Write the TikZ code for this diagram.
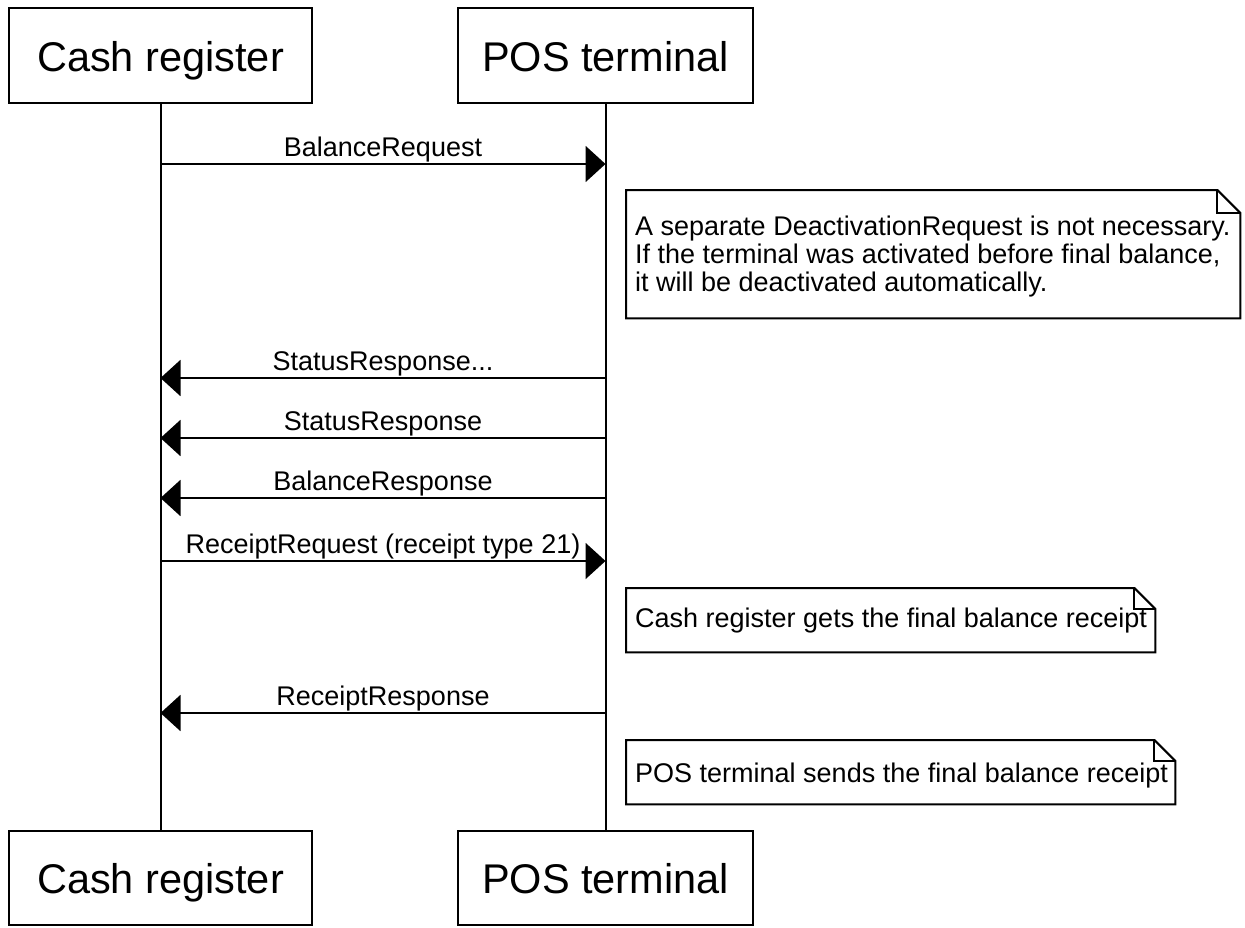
\documentclass[tikz,border=0pt]{standalone}
\usepackage{fontspec}
\setmainfont{Liberation Sans}
\usetikzlibrary{arrows.meta}

\tikzset{
  actor/.style={draw, line width=2pt, fill=white, inner sep=0pt,
    text height=38pt, text depth=7pt, font=\fontsize{41.5}{48}\selectfont},
  lifeline/.style={line width=2pt},
  msg/.style={line width=2pt, -{Triangle[length=20pt, width=36pt]}},
  msglabel/.style={font=\fontsize{27}{28}\selectfont, text depth=6pt, inner sep=1pt},
  notebox/.style={inner sep=0pt, anchor=north west},
  notetext/.style={align=left, inner sep=0pt, anchor=west,
    font=\fontsize{27}{28}\selectfont},
  noteline/.style={line width=2pt, line join=miter}
}

% note outline with folded corner
\newcommand{\foldnote}[2]{%
  \draw[noteline] (#1.north west) -- ([xshift=-#2]#1.north east)
    -- ([yshift=-#2]#1.north east) -- (#1.south east) -- (#1.south west) -- cycle;
  \draw[noteline] ([xshift=-#2]#1.north east) |- ([yshift=-#2]#1.north east);
}

\begin{document}
\begin{tikzpicture}[x=1pt, y=-1pt]
  \useasboundingbox (0,0) rectangle (1245,927);

  % participants
  \node[actor, minimum width=303pt, minimum height=95pt] (cr) at (160.5,55.5) {Cash register};
  \node[actor, minimum width=295pt, minimum height=95pt] (pos) at (605.5,55.5) {POS terminal};
  \node[actor, minimum width=303pt, minimum height=94pt] (crb) at (160.5,878) {Cash register};
  \node[actor, minimum width=295pt, minimum height=94pt] (posb) at (605.5,878) {POS terminal};

  % lifelines
  \draw[lifeline] (cr) -- (crb);
  \draw[lifeline] (pos) -- (posb);

  % message rows
  \coordinate (r1) at (0,164);
  \coordinate (r2) at (0,378);
  \coordinate (r3) at (0,438);
  \coordinate (r4) at (0,498);
  \coordinate (r5) at (0,561);
  \coordinate (r6) at (0,713);

  \draw[msg] (cr |- r1) -- (pos |- r1) node[msglabel, midway, above] {BalanceRequest};
  \draw[msg] (pos |- r2) -- (cr |- r2) node[msglabel, midway, above] {StatusResponse...};
  \draw[msg] (pos |- r3) -- (cr |- r3) node[msglabel, midway, above] {StatusResponse};
  \draw[msg] (pos |- r4) -- (cr |- r4) node[msglabel, midway, above] {BalanceResponse};
  \draw[msg] (cr |- r5) -- (pos |- r5) node[msglabel, midway, above] {ReceiptRequest (receipt type 21)};
  \draw[msg] (pos |- r6) -- (cr |- r6) node[msglabel, midway, above] {ReceiptResponse};

  % notes
  \node[notebox, minimum width=614pt, minimum height=128pt] (n1) at (626,190) {};
  \foldnote{n1}{23pt}
  \node[notetext] (n1t) at ([xshift=9pt, yshift=-2pt]n1.west)
    {A separate DeactivationRequest is not necessary.\\
     If the terminal was activated before final balance,\\
     it will be deactivated automatically.};

  \node[notebox, minimum width=529pt, minimum height=64pt] (n2) at (626,588) {};
  \foldnote{n2}{21pt}
  \node[notetext] (n2t) at ([xshift=9pt]n2.west)
    {Cash register gets the final balance receipt};

  \node[notebox, minimum width=549pt, minimum height=64pt] (n3) at (626,740) {};
  \foldnote{n3}{21pt}
  \node[notetext] (n3t) at ([xshift=9pt, yshift=-3pt]n3.west)
    {POS terminal sends the final balance receipt};
\end{tikzpicture}
\end{document}
